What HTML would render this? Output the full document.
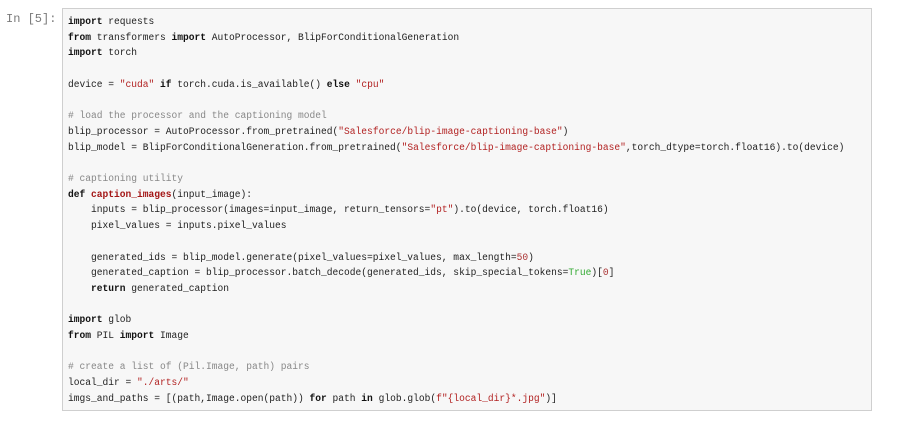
<!DOCTYPE html>
<html><head><meta charset="utf-8"><style>
body{margin:0;background:#fff;width:900px;height:422px;overflow:hidden;position:relative;font-family:"Liberation Mono",monospace;}
.p{position:absolute;left:6px;top:12px;font-size:12px;color:#7a7a7a;font-family:"Liberation Mono",monospace;}
.box{position:absolute;left:62px;top:8px;width:808px;height:401px;background:#f7f7f7;border:1px solid #cfcfcf;}
pre{margin:0;position:absolute;left:5px;top:5px;font-family:"Liberation Mono",monospace;font-size:9.87px;line-height:15.7px;color:#222;transform:scaleX(0.972);transform-origin:0 0;}
.k{font-weight:bold;color:#111}.s{color:#b22222}.c{color:#888}.f{color:#a31515;font-weight:bold}.n{color:#a33}.t{color:#3a3}
</style></head><body>
<div class="p">In [5]:</div>
<div class="box"><pre><span class="k">import</span> requests
<span class="k">from</span> transformers <span class="k">import</span> AutoProcessor, BlipForConditionalGeneration
<span class="k">import</span> torch

device = <span class="s">"cuda"</span> <span class="k">if</span> torch.cuda.is_available() <span class="k">else</span> <span class="s">"cpu"</span>

<span class="c"># load the processor and the captioning model</span>
blip_processor = AutoProcessor.from_pretrained(<span class="s">"Salesforce/blip-image-captioning-base"</span>)
blip_model = BlipForConditionalGeneration.from_pretrained(<span class="s">"Salesforce/blip-image-captioning-base"</span>,torch_dtype=torch.float16).to(device)

<span class="c"># captioning utility</span>
<span class="k">def</span> <span class="f">caption_images</span>(input_image):
    inputs = blip_processor(images=input_image, return_tensors=<span class="s">"pt"</span>).to(device, torch.float16)
    pixel_values = inputs.pixel_values

    generated_ids = blip_model.generate(pixel_values=pixel_values, max_length=<span class="n">50</span>)
    generated_caption = blip_processor.batch_decode(generated_ids, skip_special_tokens=<span class="t">True</span>)[<span class="n">0</span>]
    <span class="k">return</span> generated_caption

<span class="k">import</span> glob
<span class="k">from</span> PIL <span class="k">import</span> Image

<span class="c"># create a list of (Pil.Image, path) pairs</span>
local_dir = <span class="s">"./arts/"</span>
imgs_and_paths = [(path,Image.open(path)) <span class="k">for</span> path <span class="k">in</span> glob.glob(<span class="s">f"{local_dir}*.jpg"</span>)]</pre></div>
</body></html>
